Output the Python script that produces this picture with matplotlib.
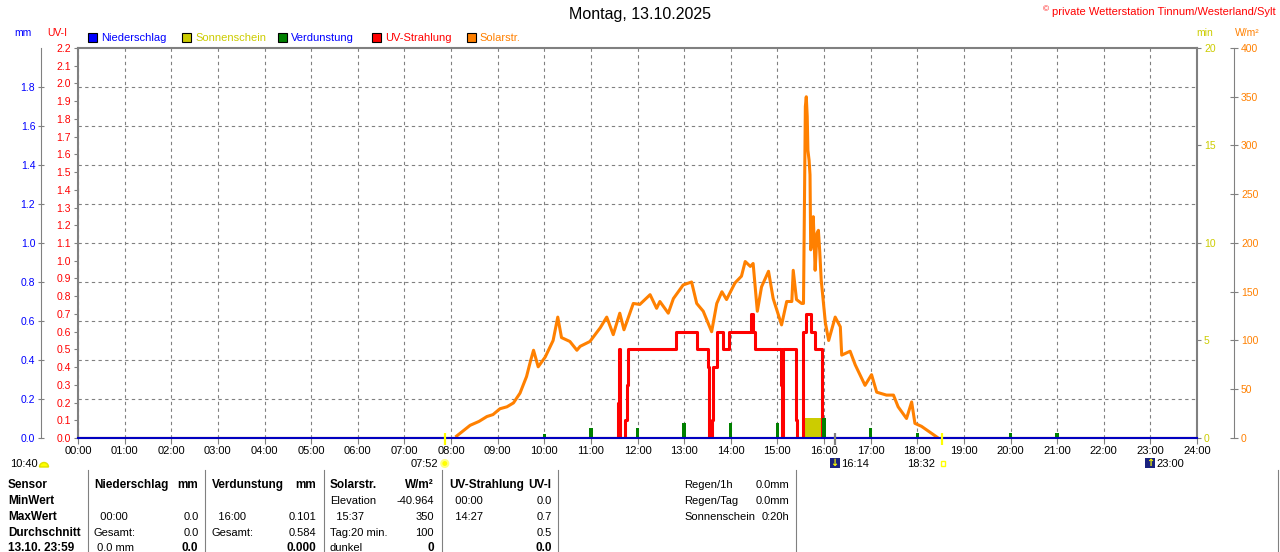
import matplotlib
matplotlib.use("Agg")
import matplotlib.pyplot as plt
from matplotlib.patches import Rectangle, Wedge, Circle

plt.rcParams['font.family'] = ['Liberation Sans', 'DejaVu Sans']

# --- Daten ---
stunden = list(range(25))
stunden_text = [f"{h:02d}:00" for h in stunden]

# Solarstrahlung W/m2
sol_zeit = [8.12, 8.20, 8.41, 8.60, 8.77, 8.90, 9.05, 9.20, 9.34, 9.48,
            9.62, 9.70, 9.77, 9.87, 10.02, 10.19, 10.29, 10.37, 10.55, 10.70,
            10.77, 10.98, 11.20, 11.34, 11.48, 11.62, 11.71, 11.91, 12.05, 12.27,
            12.41, 12.48, 12.66, 12.77, 12.98, 13.16, 13.27, 13.41, 13.59, 13.70,
            13.81, 13.91, 14.09, 14.23, 14.31, 14.42, 14.48, 14.57, 14.66, 14.81,
            14.91, 15.09, 15.20, 15.31, 15.34, 15.41, 15.52, 15.56, 15.58, 15.60,
            15.62, 15.64, 15.655, 15.68, 15.70, 15.715, 15.74, 15.77, 15.79, 15.81,
            15.85, 15.88, 15.91, 15.94, 16.03, 16.10, 16.24, 16.35, 16.38, 16.56,
            16.67, 16.88, 17.02, 17.13, 17.34, 17.49, 17.59, 17.77, 17.88, 17.95,
            18.09, 18.27, 18.42]
sol_wert = [2, 5, 13, 17, 22, 24, 30, 32, 36, 46,
            63, 78, 90, 73, 83, 100, 124, 103, 99, 90,
            94, 99, 113, 124, 106, 128, 111, 138, 137, 147,
            133, 140, 128, 143, 157, 160, 138, 130, 109, 138,
            150, 142, 159, 166, 181, 176, 179, 130, 155, 171,
            143, 116, 140, 140, 172, 142, 138, 138, 237, 340,
            350, 330, 295, 285, 270, 193, 200, 227, 200, 172,
            210, 213, 190, 162, 118, 100, 124, 114, 85, 89,
            75, 54, 65, 47, 44, 44, 32, 20, 37, 15,
            12, 6, 1]

# UV-Index (Stufen)
uv_zeit = [0.0, 11.58, 11.60, 11.63, 11.74, 11.77, 11.80, 12.83, 13.27, 13.51,
           13.53, 13.60, 13.63, 13.71, 13.84, 13.96, 14.43, 14.47, 14.52, 15.08,
           15.10, 15.13, 15.41, 15.43, 15.54, 15.56, 15.61, 15.72, 15.81, 15.95, 24.0]
uv_wert = [0.0, 0.2, 0.5, 0.0, 0.1, 0.3, 0.5, 0.6, 0.5, 0.4,
           0.0, 0.1, 0.4, 0.6, 0.5, 0.6, 0.7, 0.6, 0.5, 0.3,
           0.0, 0.5, 0.1, 0.0, 0.3, 0.6, 0.7, 0.6, 0.5, 0.0, 0.0]

# Verdunstung mm (stuendlich)
verd_zeit = [10, 11, 12, 13, 14, 15, 16, 17, 18, 20, 21]
verd_mm = [0.022, 0.052, 0.052, 0.076, 0.076, 0.076, 0.101, 0.050, 0.028, 0.027, 0.024]

# Niederschlag mm
nied_zeit = [0, 24]
nied_mm = [0.0, 0.0]

# Sonnenschein min
sonne_zeit = [15.58]
sonne_dauer = [0.37]
sonne_min = [1.05]

mm_ticks = [0.0, 0.2, 0.4, 0.6, 0.8, 1.0, 1.2, 1.4, 1.6, 1.8]
uv_ticks = [round(0.1 * i, 1) for i in range(23)]
min_ticks = [0, 5, 10, 15, 20]
sol_ticks = [0, 50, 100, 150, 200, 250, 300, 350, 400]

aufgang = 7 + 52 / 60
untergang = 18 + 32 / 60
mond_unter = 16 + 14 / 60
mond_auf = 23.0

BLAU = '#0000FF'
ROT = '#FF0000'
GELB = '#CCCC00'
ORANGE = '#FF8000'
GRUEN = '#008000'
GRAU = '#808080'

W, H = 1280, 552
L, R, T, B = 78, 1197, 48, 438

fig = plt.figure(figsize=(12.8, 5.52), dpi=100)
fig.patch.set_facecolor('white')
pos = [L / W, 1 - B / H, (R - L) / W, (B - T) / H]

# Basis: mm-Achse, Raster, Zeitachse
ax = fig.add_axes(pos)
ax.set_xlim(0, 24)
ax.set_ylim(0, 2.0)
ax.set_xticks(stunden)
ax.set_xticklabels(stunden_text)
ax.set_yticks(mm_ticks)
ax.set_yticklabels([f"{v:.1f}" for v in mm_ticks])
ax.grid(True, color=GRAU, linestyle=(0, (3, 3)), linewidth=0.8)
ax.tick_params(axis='x', colors=GRAU, labelcolor='black', labelsize=8,
               length=4.5, width=0.8, pad=1.5)
ax.tick_params(axis='y', colors=GRAU, labelcolor=BLAU, labelsize=7.5,
               direction='inout', length=4.5, width=0.8, pad=2)
ax.spines['top'].set_visible(False)
ax.spines['right'].set_visible(False)
ax.spines['left'].set_position(('outward', 26.5))
ax.spines['left'].set_color(GRAU)
ax.spines['left'].set_linewidth(0.8)
ax.spines['bottom'].set_color(GRAU)
ax.spines['bottom'].set_linewidth(1.5)

# Sonnenschein (min)
ax_min = ax.twinx()
ax_min.set_ylim(0, 20)
ax_min.set_yticks(min_ticks)
ax_min.set_yticklabels([str(v) for v in min_ticks])
ax_min.tick_params(axis='y', colors=GRAU, labelcolor=GELB, labelsize=7.5,
                   length=3, width=0.8, pad=2)
for s in ['top', 'left', 'bottom']:
    ax_min.spines[s].set_visible(False)
ax_min.spines['right'].set_color(GRAU)
ax_min.spines['right'].set_linewidth(1.5)
ax_min.bar(sonne_zeit, sonne_min, width=sonne_dauer, align='edge',
           color=GELB, linewidth=0)

# Solarstrahlung (W/m2)
ax_sol = ax.twinx()
ax_sol.set_ylim(0, 400)
ax_sol.set_yticks(sol_ticks)
ax_sol.set_yticklabels([str(v) for v in sol_ticks])
ax_sol.tick_params(axis='y', colors=GRAU, labelcolor=ORANGE, labelsize=7.5,
                   direction='inout', length=5.5, width=0.8, pad=2)
for s in ['top', 'left', 'bottom']:
    ax_sol.spines[s].set_visible(False)
ax_sol.spines['right'].set_position(('outward', 26.9))
ax_sol.spines['right'].set_color(GRAU)
ax_sol.spines['right'].set_linewidth(0.8)
ax_sol.plot(sol_zeit, sol_wert, color=ORANGE, linewidth=2.2)

# UV-Index
ax_uv = ax.twinx()
ax_uv.set_ylim(0, 2.2)
ax_uv.yaxis.tick_left()
ax_uv.set_yticks(uv_ticks)
ax_uv.set_yticklabels([f"{v:.1f}" for v in uv_ticks])
ax_uv.tick_params(axis='y', colors=GRAU, labelcolor=ROT, labelsize=7.5,
                  length=3, width=0.8, pad=2)
ax_uv.spines['right'].set_visible(False)
ax_uv.spines['bottom'].set_visible(False)
for s in ['left', 'top']:
    ax_uv.spines[s].set_color(GRAU)
    ax_uv.spines[s].set_linewidth(1.5)
ax_uv.plot(uv_zeit, uv_wert, color=ROT, linewidth=2.2, drawstyle='steps-post')

# Verdunstung + Niederschlag (mm) oben drauf
ax_dat = ax.twinx()
ax_dat.set_ylim(0, 2.0)
ax_dat.yaxis.set_visible(False)
for s in ax_dat.spines.values():
    s.set_visible(False)
ax_dat.bar(verd_zeit, verd_mm, width=0.07, color=GRUEN, linewidth=0)
ax_dat.plot(nied_zeit, nied_mm, color='#0000C0', linewidth=1.5, clip_on=False)

# Overlay in Pixelkoordinaten fuer Texte
ov = fig.add_axes([0, 0, 1, 1])
ov.set_xlim(0, W)
ov.set_ylim(H, 0)
ov.axis('off')


def t_px(t):
    return ax.transData.transform((t, 0))[0]


ov.text(640, 15, "Montag, 13.10.2025", ha='center', va='center', fontsize=11.5)
ov.text(1276, 12, "private Wetterstation Tinnum/Westerland/Sylt", ha='right',
        va='center', color=ROT, fontsize=8)
ov.text(1049, 10, "©", ha='right', va='center', color=ROT, fontsize=6)

# Achsentitel
ov.text(23, 33, "mm", ha='center', va='center', color=BLAU, fontsize=7.5)
ov.text(57, 33, "UV-I", ha='center', va='center', color=ROT, fontsize=7.5)
ov.text(1205, 33, "min", ha='center', va='center', color=GELB, fontsize=7.5)
ov.text(1247, 33, "W/m²", ha='center', va='center', color=ORANGE, fontsize=7.5)

# Legende
leg_text = ["Niederschlag", "Sonnenschein", "Verdunstung", "UV-Strahlung", "Solarstr."]
leg_farbe = [BLAU, GELB, GRUEN, ROT, ORANGE]
leg_textfarbe = [BLAU, GELB, BLAU, ROT, ORANGE]
leg_x = [88, 182, 277.5, 372, 466.5]
for txt, fc, tc, x in zip(leg_text, leg_farbe, leg_textfarbe, leg_x):
    ov.add_patch(Rectangle((x, 33), 9, 9, facecolor=fc, edgecolor='black', linewidth=0.8))
    ov.text(x + 13, 38, txt, ha='left', va='center', color=tc, fontsize=8)

# Sonnen-/Mondmarken unter der Achse
for t, c in [(aufgang, '#FFFF00'), (untergang, '#FFFF00'), (mond_unter, GRAU)]:
    x = t_px(t)
    ov.plot([x, x], [433, 445], color=c, linewidth=1.6, solid_capstyle='butt')

ov.text(37.5, 464, "10:40", ha='right', va='center', fontsize=8)
ov.add_patch(Wedge((44, 467), 4.5, 180, 360, facecolor='#FFFF00', edgecolor='#E0E000'))

xa = t_px(aufgang)
ov.text(xa - 7, 464, "07:52", ha='right', va='center', fontsize=8)
ov.add_patch(Circle((xa, 463.5), 3.5, facecolor='#FFFF00', edgecolor='#FFFF80', linewidth=1.5))

xu = t_px(untergang)
ov.text(xu - 7, 464, "18:32", ha='right', va='center', fontsize=8)
ov.add_patch(Rectangle((xu - 1.5, 461), 4.5, 4.5, facecolor='white', edgecolor='#FFFF00', linewidth=1))

for t, txt, pfeil in [(mond_unter, "16:14", "↓"), (mond_auf, "23:00", "↑")]:
    x = t_px(t)
    ov.add_patch(Rectangle((x - 5, 458), 10, 10, facecolor='#1A237E', edgecolor='none'))
    ov.text(x - 0.5, 463, pfeil, ha='center', va='center', color='#FFFF00',
            fontsize=7, fontweight='bold', family='DejaVu Sans')
    ov.text(x + 6, 464, txt, ha='left', va='center', fontsize=8)

# Tabelle unten
for x in [88, 205, 323.5, 442, 557.5, 795.5, 1278]:
    ov.plot([x, x], [470, 552], color=GRAU, linewidth=0.8)

zeilen_y = [485, 501, 517, 533, 548]
zeilen = ["Sensor", "MinWert", "MaxWert", "Durchschnitt", "13.10. 23:59"]
for y, txt in zip(zeilen_y, zeilen):
    ov.text(8, y, txt, ha='left', va='center', fontsize=8.5, fontweight='bold')

spalten_links = [94, 212, 330, 449]
spalten_rechts = [198.5, 316, 434, 551.5]
spalten = [
    [("Niederschlag", "mm"), ("", ""), ("  00:00", "0.0"), ("Gesamt:", "0.0"), (" 0.0 mm", "0.0")],
    [("Verdunstung", "mm"), ("", ""), ("  16:00", "0.101"), ("Gesamt:", "0.584"), ("", "0.000")],
    [("Solarstr.", "W/m²"), ("Elevation", "-40.964"), ("  15:37", "350"), ("Tag:20 min.", "100"), ("dunkel", "0")],
    [("UV-Strahlung", "UV-I"), ("  00:00", "0.0"), ("  14:27", "0.7"), ("", "0.5"), ("", "0.0")],
]
for xl, xr, spalte in zip(spalten_links, spalten_rechts, spalten):
    for i, (links, rechts) in enumerate(spalte):
        y = zeilen_y[i]
        kopf = i == 0
        ov.text(xl, y, links, ha='left', va='center', fontsize=8.5 if kopf else 8,
                fontweight='bold' if kopf else 'normal')
        fett = kopf or i == 4
        ov.text(xr, y, rechts, ha='right', va='center', fontsize=8.5 if fett else 8,
                fontweight='bold' if fett else 'normal')

info_links = ["Regen/1h", "Regen/Tag", "Sonnenschein"]
info_rechts = ["0.0mm", "0.0mm", "0:20h"]
for y, a, b in zip(zeilen_y, info_links, info_rechts):
    ov.text(684, y, a, ha='left', va='center', fontsize=8)
    ov.text(789, y, b, ha='right', va='center', fontsize=8)

fig.savefig("out.png", dpi=100)
